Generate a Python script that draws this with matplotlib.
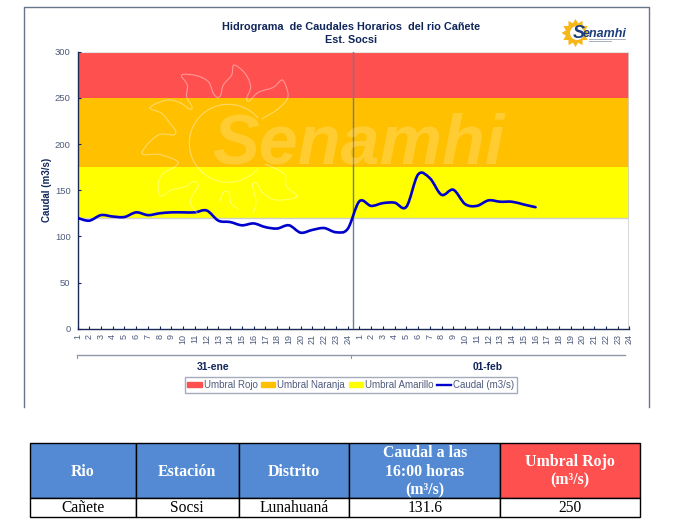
import numpy as np
import matplotlib
matplotlib.use('Agg')
import matplotlib.pyplot as plt
from matplotlib.patches import Rectangle, PathPatch, Patch, Circle, Polygon, Arc
from matplotlib.lines import Line2D
from matplotlib.path import Path

W, H = 674, 524

# hourly flow, 31-ene 1..24 then 01-feb 1..16
caudal = [120, 117, 123, 121.5, 121, 126, 123, 125, 126, 126, 126, 128,
          117, 115.5, 112, 114, 110, 108.5, 112, 104, 107, 109, 104.5, 108,
          138, 133, 136, 136.5, 132, 167, 163, 145, 150.5, 135, 133, 139,
          137.5, 137.5, 134.5, 131.6]
hour_labels = [str(h) for h in range(1, 25)] * 2
day_labels = ['31-ene', '01-feb']
umbral_names = ['Umbral Rojo', 'Umbral Naranja', 'Umbral Amarillo']
umbral_low = [250, 175, 120]
umbral_high = [300, 250, 175]
umbral_colors = ['#FF5050', '#FFC000', '#FFFF00']
y_ticks = [0, 50, 100, 150, 200, 250, 300]

table_head = ['Rio', 'Estación', 'Distrito', 'Caudal a las\n16:00 horas\n(m³/s)', 'Umbral Rojo\n(m³/s)']
table_row = ['Cañete', 'Socsi', 'Lunahuaná', '131.6', '250']
table_cols = [29.5, 135.7, 238.7, 349.3, 500.3, 640.3]

NAVY = '#10265A'
GREY_TXT = '#4F5B7C'
FRAME = '#66758A'
SANS = 'Liberation Sans'
SERIF = 'Liberation Serif'

sun_petals = [
    [(395, 192), (440, 165), (470, 135), (473, 110), (457, 75), (430, 97), (385, 112),
     (358, 138), (350, 130), (362, 95), (345, 55), (312, 30), (305, 60), (280, 90),
     (272, 120), (262, 127), (250, 115), (235, 80), (200, 62), (155, 60), (172, 90),
     (170, 125), (186, 155), (178, 162), (150, 143), (110, 135), (60, 158), (95, 175),
     (120, 205), (137, 228), (130, 240), (90, 238), (55, 265), (37, 297), (85, 298),
     (125, 310), (145, 323), (130, 338), (100, 355), (85, 385), (92, 423), (125, 405),
     (165, 395), (190, 380), (205, 392), (185, 425), (183, 450), (205, 478)],
    [(270, 440), (280, 412), (297, 412), (303, 445), (325, 462)],
    [(370, 475), (378, 440), (367, 390), (380, 385), (400, 415), (440, 435), (500, 425),
     (470, 395), (465, 360), (435, 340), (405, 328)],
]


def smooth_path(x, y):
    # same kind of smoothing as the spreadsheet line
    x = np.asarray(x, dtype=float)
    y = np.asarray(y, dtype=float)
    verts = [(x[0], y[0])]
    codes = [Path.MOVETO]
    for i in range(len(x) - 1):
        p0 = max(i - 1, 0)
        p3 = min(i + 2, len(x) - 1)
        verts.append((x[i] + (x[i + 1] - x[p0]) / 6, y[i] + (y[i + 1] - y[p0]) / 6))
        verts.append((x[i + 1] - (x[p3] - x[i]) / 6, y[i + 1] - (y[p3] - y[i]) / 6))
        verts.append((x[i + 1], y[i + 1]))
        codes += [Path.CURVE4] * 3
    return Path(verts, codes)


def px_axes(left, top, right, bottom):
    return [left / W, 1 - bottom / H, (right - left) / W, (bottom - top) / H]


def pixel_layer(zorder):
    layer = fig.add_axes([0, 0, 1, 1], zorder=zorder)
    layer.set_xlim(0, W)
    layer.set_ylim(H, 0)
    layer.axis('off')
    return layer


fig = plt.figure(figsize=(W / 100, H / 100), dpi=100, facecolor='white')

# page layer in pixel coordinates: frame, table, logo
page = pixel_layer(0)
page.plot([24, 24, 649.3, 649.3], [407, 7.3, 7.3, 407], color=FRAME, lw=1)

# chart
ax = fig.add_axes(px_axes(77.5, 51.7, 629.5, 328.7), zorder=1)
ax.patch.set_alpha(0)
x = np.arange(len(hour_labels))
for low, high, color in zip(umbral_low, umbral_high, umbral_colors):
    ax.fill_between(x, low, high, color=color, lw=0, zorder=1)
ax.axhline(umbral_low[2], color='#CFCFCF', lw=1, zorder=1.5)
ax.axhline(y_ticks[-1], color='#E4E4E4', lw=0.8, zorder=1.5)
ax.axvline(x[-1], color='#CFCFCF', lw=1.2, zorder=1.5)
ax.set_xlim(x[0], x[-1])
ax.set_ylim(0, 300)

ax.add_patch(PathPatch(smooth_path(x[:len(caudal)], caudal), fill=False, edgecolor='#0000CC',
                       lw=1.9, capstyle='round', zorder=5))
ax.axvline(23.5, color='#6F7B92', lw=1, zorder=4)

ax.set_yticks(y_ticks)
ax.set_xticks(x)
ax.set_xticklabels(hour_labels, rotation=90, family=SANS, fontsize=6.5, color=GREY_TXT)
ax.set_yticklabels([str(v) for v in y_ticks], family=SANS, fontsize=6.8, color=GREY_TXT)
ax.tick_params(axis='x', direction='in', length=2, width=0.8, color=NAVY, pad=3.5)
ax.tick_params(axis='y', direction='in', length=2, width=0.8, color=NAVY, pad=5)
for side in ['top', 'right']:
    ax.spines[side].set_visible(False)
for side in ['left', 'bottom']:
    ax.spines[side].set_color('#1B2A55')
    ax.spines[side].set_linewidth(1)
ax.set_axisbelow(False)

# watermark and the texts around the chart
overlay = pixel_layer(2)
for pts in sun_petals:
    pts = np.array(pts) / 3 + [130, 55]
    overlay.add_patch(PathPatch(smooth_path(pts[:, 0], pts[:, 1]), fill=False,
                                edgecolor='white', alpha=0.4, lw=0.8))
overlay.add_patch(Arc((228.3, 143.3), 78, 78, theta1=40, theta2=320, color='white', alpha=0.4, lw=0.8))
overlay.text(212, 163, 'Senamhi', family=SANS, weight='bold', style='italic', fontsize=50.5,
             color='white', alpha=0.2, ha='left', va='baseline')

overlay.text(351, 26.5, 'Hidrograma  de Caudales Horarios  del rio Cañete', family=SANS, weight='bold',
             fontsize=7.8, color=NAVY, ha='center', va='center')
overlay.text(351, 40, 'Est. Socsi', family=SANS, weight='bold', fontsize=7.8, color=NAVY,
             ha='center', va='center')
overlay.text(47, 190, 'Caudal (m3/s)', family=SANS, weight='bold', fontsize=7, color=NAVY,
             rotation=90, ha='center', va='center')

# second level of the category axis
overlay.plot([76.5, 625], [355, 355], color='#8D97A8', lw=1)
for tx in [76.5, 350.7]:
    overlay.plot([tx, tx], [355, 358], color='#8D97A8', lw=0.8)
overlay.text(213.5, 367, day_labels[0], family=SANS, weight='bold', fontsize=7.4, color=NAVY,
             ha='center', va='center')
overlay.text(488, 367, day_labels[1], family=SANS, weight='bold', fontsize=7.4, color=NAVY,
             ha='center', va='center')

handles = [Patch(color=c, label=n) for n, c in zip(umbral_names, umbral_colors)]
handles.append(Line2D([], [], color='#0000CC', lw=1.7, label='Caudal (m3/s)'))
leg = overlay.legend(handles=handles, loc='center', bbox_to_anchor=(351 / W, 1 - 385 / H),
                     bbox_transform=fig.transFigure, ncol=4, frameon=True, fancybox=False,
                     handlelength=1.45, handleheight=0.5, handletextpad=0.2,
                     columnspacing=0.4, borderpad=0.3, labelcolor=GREY_TXT,
                     prop={'family': SANS, 'size': 7})
leg.get_frame().set_edgecolor('#8D97A8')
leg.get_frame().set_linewidth(1)

# logo
angles = np.linspace(0, 2 * np.pi, 25)[:-1]
radii = np.where(np.arange(24) % 2 == 0, 14, 10)
star = np.column_stack([575.5 + radii * np.cos(angles), 33 + radii * np.sin(angles)])
page.add_patch(Polygon(star, closed=True, facecolor='#F7B718', edgecolor='none'))
page.add_patch(Circle((577, 33), 7, facecolor='white', edgecolor='none'))
page.text(572.5, 38.5, 'S', family=SANS, weight='bold', style='italic', fontsize=13, color='#1D3F7C',
          ha='left', va='baseline')
page.text(583, 37, 'enamhi', family=SANS, weight='bold', style='italic', fontsize=9, color='#1D3F7C',
          ha='left', va='baseline')
for yy, xend in [(38.5, 625), (40.5, 611)]:
    page.plot([589, xend], [yy, yy], color='#9AA3B5', lw=0.6)

# summary table
top, mid, bottom = 442.7, 498.3, 517.3
head_colors = ['#538AD3'] * 4 + ['#FF5050']
for i in range(len(table_head)):
    left, right = table_cols[i], table_cols[i + 1]
    page.add_patch(Rectangle((left, top), right - left, mid - top, facecolor=head_colors[i],
                             edgecolor='black', lw=1))
    page.add_patch(Rectangle((left, mid), right - left, bottom - mid, facecolor='white',
                             edgecolor='black', lw=1))
    page.text((left + right) / 2, (top + mid) / 2 + 1, table_head[i], family=SERIF, weight='bold',
              fontsize=11.4, color='white', ha='center', va='center', linespacing=1.22)
    page.text((left + right) / 2, (mid + bottom) / 2 + 0.5, table_row[i], family=SERIF,
              fontsize=11.2, color='black', ha='center', va='center')

fig.savefig('out.png', dpi=100)
